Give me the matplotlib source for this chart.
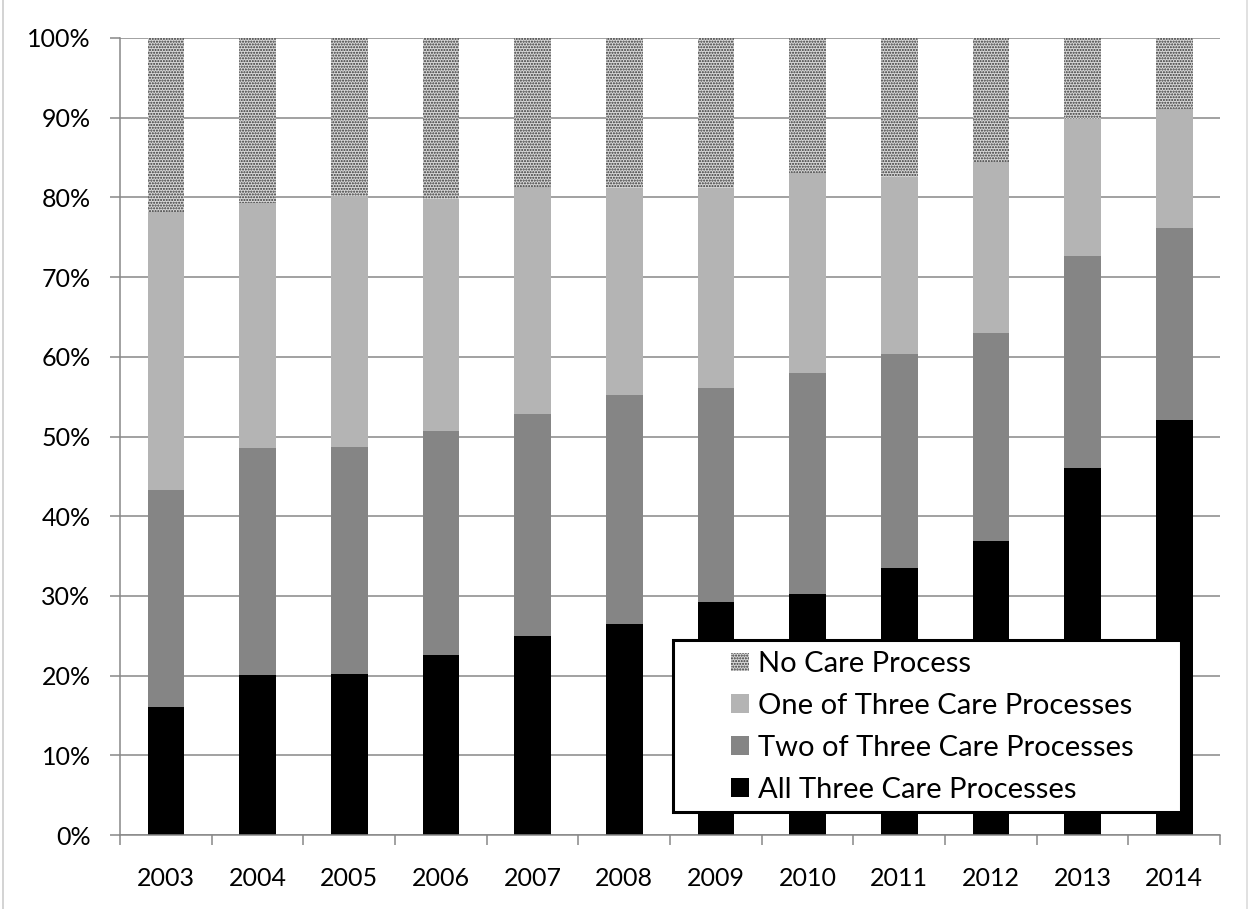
import matplotlib
matplotlib.use("Agg")
import matplotlib.pyplot as plt
import numpy as np
from matplotlib.lines import Line2D
from matplotlib.patches import Patch, Rectangle
from matplotlib.ticker import FuncFormatter, MultipleLocator

# Share of patients by number of care processes received, per year (%)
years = ["2003", "2004", "2005", "2006", "2007", "2008",
         "2009", "2010", "2011", "2012", "2013", "2014"]
all_three = [16.0, 20.1, 20.2, 22.6, 25.0, 26.5, 29.2, 30.2, 33.5, 36.9, 46.0, 52.1]
two_of_three = [27.3, 28.4, 28.5, 28.1, 27.8, 28.7, 26.9, 27.8, 26.9, 26.1, 26.7, 24.1]
one_of_three = [34.9, 30.8, 31.5, 29.1, 28.5, 26.0, 25.1, 25.0, 22.1, 21.5, 17.1, 14.9]
no_care = [21.8, 20.7, 19.8, 20.2, 18.7, 18.8, 18.8, 17.0, 17.5, 15.5, 10.2, 8.9]

labels = ["All Three Care Processes", "Two of Three Care Processes",
          "One of Three Care Processes", "No Care Process"]

GRID = "#888888"
DOT_FACE, DOT_INK = "#d8d8d8", "#333333"
plt.rcParams["font.family"] = ["Lato", "DejaVu Sans"]
plt.rcParams["hatch.color"] = DOT_INK
plt.rcParams["hatch.linewidth"] = 1.0

fig = plt.figure(figsize=(12.49, 9.09), dpi=100)
ax = fig.add_axes([0.0961, 0.0814, 0.8807, 0.8768])

x = np.arange(len(years))
w = 0.40
b1 = np.array(all_three)
b2 = b1 + np.array(two_of_three)
b3 = b2 + np.array(one_of_three)

ax.bar(x, all_three, w, color="black", zorder=2)
ax.bar(x, two_of_three, w, bottom=b1, color="#858585", zorder=2)
ax.bar(x, one_of_three, w, bottom=b2, color="#b4b4b4", zorder=2)
ax.bar(x, no_care, w, bottom=b3, facecolor=DOT_FACE, edgecolor=DOT_INK,
       linewidth=0, hatch="......", zorder=2)

ax.set_xlim(-0.5, len(years) - 0.5)
ax.set_ylim(0, 100)
ax.yaxis.set_major_locator(MultipleLocator(10))
ax.yaxis.set_major_formatter(FuncFormatter(lambda v, _: f"{v:.0f}%"))
ax.set_xticks(x)
ax.set_xticklabels(years)
ax.set_xticks(np.arange(-0.5, len(years)), minor=True)

ax.grid(axis="y", color=GRID, linewidth=1.1, zorder=0)
ax.set_axisbelow(True)
for side in ("top", "right"):
    ax.spines[side].set_visible(False)
for side in ("left", "bottom"):
    ax.spines[side].set_color(GRID)
    ax.spines[side].set_linewidth(1.1)
    ax.spines[side].set_zorder(3)

ax.tick_params(axis="y", length=7.2, width=1.1, color=GRID, labelsize=18, pad=14)
ax.tick_params(axis="x", which="major", length=0, labelsize=18, pad=23)
ax.tick_params(axis="x", which="minor", length=7.2, width=1.1, color=GRID)

# legend box drawn separately so its size is fixed, entries sit inside it
ax.add_patch(Rectangle((0.5027, 0.0289), 0.4618, 0.2161, transform=ax.transAxes,
                       facecolor="white", edgecolor="black", linewidth=2.2,
                       zorder=5))
handles = [
    Patch(facecolor=DOT_FACE, edgecolor=DOT_INK, linewidth=0, hatch="......"),
    Patch(facecolor="#b4b4b4"),
    Patch(facecolor="#858585"),
    Patch(facecolor="black"),
]
leg = ax.legend(handles, labels[::-1], loc="upper left",
                bbox_to_anchor=(0.5555, 0.2305), fontsize=21, frameon=False,
                borderpad=0, labelspacing=0.54, handlelength=0.62,
                handleheight=0.62, handletextpad=0.31, borderaxespad=0)
leg.set_zorder(6)

# thin chart-area border on the outer edges
fig.add_artist(Line2D([0.0025, 0.0025], [0, 1], color="#c8c8c8", linewidth=1.1))
fig.add_artist(Line2D([0.9985, 0.9985], [0, 1], color="#d8d8d8", linewidth=1.1))

fig.savefig("out.png", dpi=100)
